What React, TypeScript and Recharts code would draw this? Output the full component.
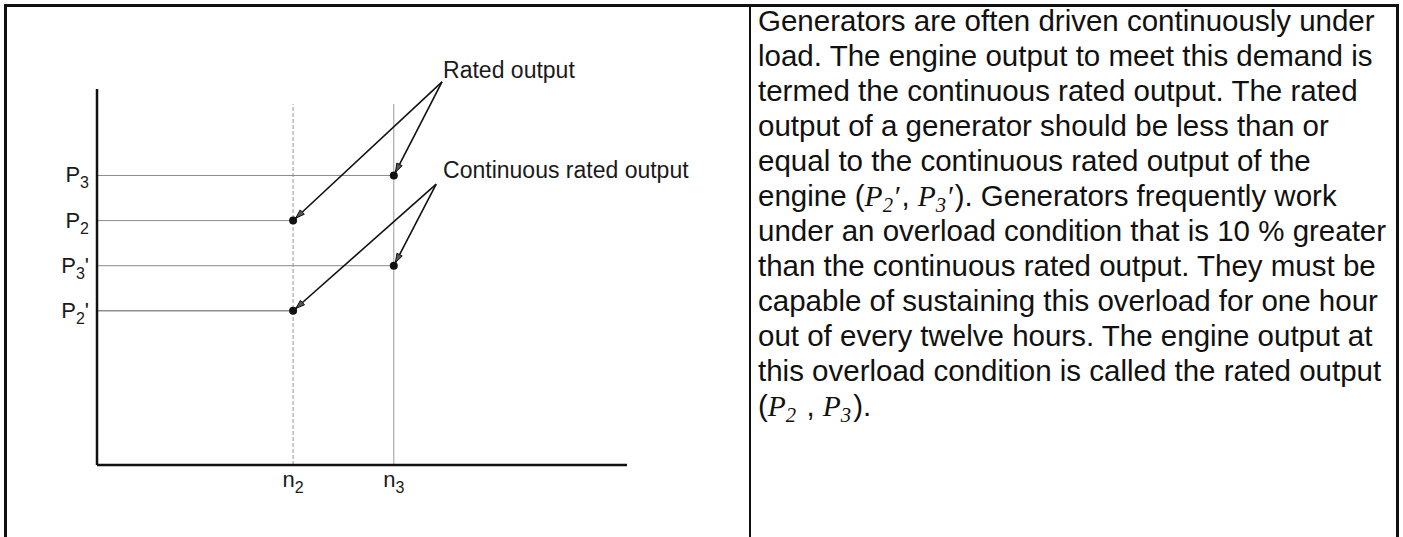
import { ComposedChart, Scatter, XAxis, YAxis, ReferenceLine, ReferenceDot } from "recharts";

// engine speed (x) and power levels (y), both on a 0..100 schematic scale
const speedTicks = ["n2", "n3"];
const speeds = [37, 56];
const ratedTicks = ["P2", "P3"];
const ratedOutput = [65, 77];
const continuousTicks = ["P2'", "P3'"];
const continuousOutput = [41, 53];
const speedLineTop = 96;

// call-outs: where the label sits and where its arrows start
const calloutLabels = ["Rated output", "Continuous rated output"];
const calloutTextX = [65.3, 65.3];
const calloutTextY = [102.9, 76.3];
const calloutFromX = [65.1, 64.0];
const calloutFromY = [101.9, 74.7];

const noteLines = [
  "Generators are often driven continuously under",
  "load. The engine output to meet this demand is",
  "termed the continuous rated output. The rated",
  "output of a generator should be less than or",
  "equal to the continuous rated output of the",
  "engine ({P2'}, {P3'}). Generators frequently work",
  "under an overload condition that is 10 % greater",
  "than the continuous rated output. They must be",
  "capable of sustaining this overload for one hour",
  "out of every twelve hours. The engine output at",
  "this overload condition is called the rated output",
  "({P2} , {P3}).",
];

const SANS = "'Liberation Sans', Arial, Helvetica, sans-serif";
const SERIF = "'Liberation Serif', 'Times New Roman', serif";

const ratedPoints = speeds.map((x, i) => ({ x, y: ratedOutput[i] }));
const continuousPoints = speeds.map((x, i) => ({ x, y: continuousOutput[i] }));

const yTickLabel: Record<number, string> = {};
ratedOutput.forEach((v, i) => (yTickLabel[v] = ratedTicks[i]));
continuousOutput.forEach((v, i) => (yTickLabel[v] = continuousTicks[i]));
const xTickLabel: Record<number, string> = {};
speeds.forEach((v, i) => (xTickLabel[v] = speedTicks[i]));

function YTick(props: any) {
  const { x, y, payload } = props;
  const label = yTickLabel[payload.value] || "";
  const [main, sub, ...rest] = label.split("");
  return (
    <text x={x} y={y + 7} textAnchor="end" fontSize={22} fontFamily={SANS} fill="#1a1a1a">
      <tspan>{main}</tspan>
      <tspan fontSize={16} dy={6}>{sub}</tspan>
      {rest.length > 0 && <tspan dy={-6}>{rest.join("")}</tspan>}
    </text>
  );
}

function XTick(props: any) {
  const { x, y, payload } = props;
  const label = xTickLabel[payload.value] || "";
  return (
    <text x={x} y={y + 22} textAnchor="middle" fontSize={22} fontFamily={SANS} fill="#1a1a1a">
      <tspan>{label[0]}</tspan>
      <tspan fontSize={16} dy={6}>{label.slice(1)}</tspan>
    </text>
  );
}

// leader line ending in a small arrowhead just short of the dot
function Arrow(props: any) {
  const { x1, y1, x2, y2 } = props;
  const a = Math.atan2(y2 - y1, x2 - x1);
  const tx = x2 - Math.cos(a) * 3.5;
  const ty = y2 - Math.sin(a) * 3.5;
  const bx = tx - Math.cos(a) * 9;
  const by = ty - Math.sin(a) * 9;
  const px = -Math.sin(a) * 3;
  const py = Math.cos(a) * 3;
  return (
    <g>
      <line x1={x1} y1={y1} x2={tx} y2={ty} stroke="#111" strokeWidth={1.6} />
      <path d={`M${tx},${ty} L${bx + px},${by + py} L${bx - px},${by - py} Z`} fill="#555" stroke="#111" strokeWidth={1} />
    </g>
  );
}

function Dot(props: any) {
  return <circle cx={props.cx} cy={props.cy} r={4} fill="#111" />;
}

function Note({ text }: { text: string }) {
  const parts = text.split(/(\{[^}]+\})/);
  return (
    <div style={{ whiteSpace: "nowrap", height: 35 }}>
      {parts.map((p, i) => {
        if (!p.startsWith("{")) return <span key={i}>{p}</span>;
        const sym = p.slice(1, -1);
        return (
          <span key={i} style={{ fontFamily: SERIF, fontStyle: "italic", paddingRight: 2 }}>
            {sym[0]}
            <span style={{ fontSize: "0.7em", position: "relative", top: "0.3em" }}>{sym[1]}</span>
            {sym.length > 2 ? "′" : ""}
          </span>
        );
      })}
    </div>
  );
}

export default function App() {
  return (
    <div style={{ position: "absolute", left: 0, top: 0, width: 1403, height: 537, background: "#fff", overflow: "hidden" }}>
      <div style={{ position: "absolute", left: 0, top: 0 }}>
        <ComposedChart width={745} height={537} margin={{ top: 89, right: 118, bottom: 0, left: 0 }}>
          <XAxis
            type="number"
            dataKey="x"
            domain={[0, 100]}
            ticks={speeds}
            height={72}
            tickSize={0}
            tickMargin={0}
            tick={(p: any) => <XTick {...p} />}
            axisLine={{ stroke: "#111", strokeWidth: 2.5 }}
            tickLine={false}
          />
          <YAxis
            type="number"
            dataKey="y"
            domain={[0, 100]}
            ticks={[...continuousOutput, ...ratedOutput]}
            width={97}
            tickSize={0}
            tickMargin={8}
            tick={(p: any) => <YTick {...p} />}
            axisLine={{ stroke: "#111", strokeWidth: 2.5 }}
            tickLine={false}
          />
          <ReferenceLine
            segment={[{ x: speeds[0], y: 0 }, { x: speeds[0], y: speedLineTop }]}
            stroke="#999"
            strokeDasharray="4 2"
          />
          <ReferenceLine
            segment={[{ x: speeds[1], y: 0 }, { x: speeds[1], y: speedLineTop }]}
            stroke="#999"
          />
          {ratedOutput.map((v, i) => (
            <ReferenceLine key={"r" + i} segment={[{ x: 0, y: v }, { x: speeds[i], y: v }]} stroke="#8a8a8a" />
          ))}
          {continuousOutput.map((v, i) => (
            <ReferenceLine key={"c" + i} segment={[{ x: 0, y: v }, { x: speeds[i], y: v }]} stroke={i === 0 ? "#555" : "#8a8a8a"} />
          ))}
          {ratedPoints.map((p, i) => (
            <ReferenceLine
              key={"ra" + i}
              segment={[{ x: calloutFromX[0], y: calloutFromY[0] }, p]}
              ifOverflow="visible"
              shape={(sp: any) => <Arrow {...sp} />}
            />
          ))}
          {continuousPoints.map((p, i) => (
            <ReferenceLine
              key={"ca" + i}
              segment={[{ x: calloutFromX[1], y: calloutFromY[1] }, p]}
              ifOverflow="visible"
              shape={(sp: any) => <Arrow {...sp} />}
            />
          ))}
          {calloutLabels.map((t, i) => (
            <ReferenceDot
              key={"l" + i}
              x={calloutTextX[i]}
              y={calloutTextY[i]}
              r={0}
              ifOverflow="visible"
              shape={(sp: any) => (
                <text x={sp.cx} y={sp.cy} fontSize={23} fontFamily={SANS} fill="#1a1a1a">
                  {t}
                </text>
              )}
            />
          ))}
          <Scatter data={ratedPoints} fill="#111" shape={(p: any) => <Dot {...p} />} isAnimationActive={false} />
          <Scatter data={continuousPoints} fill="#111" shape={(p: any) => <Dot {...p} />} isAnimationActive={false} />
        </ComposedChart>
      </div>

      <div
        style={{
          position: "absolute",
          left: 758,
          top: 3,
          fontFamily: SANS,
          fontSize: 29.5,
          lineHeight: "35px",
          color: "#111",
        }}
      >
        {noteLines.map((l, i) => (
          <Note key={i} text={l} />
        ))}
      </div>

      {/* table frame: outer border and column divider */}
      <div
        style={{
          position: "absolute",
          left: 4,
          top: 4,
          width: 1389,
          height: 560,
          borderTop: "3px solid #111",
          borderLeft: "3px solid #111",
          borderRight: "3px solid #111",
          pointerEvents: "none",
        }}
      />
      <div style={{ position: "absolute", left: 749, top: 4, width: 2, height: 560, background: "#111" }} />
    </div>
  );
}
